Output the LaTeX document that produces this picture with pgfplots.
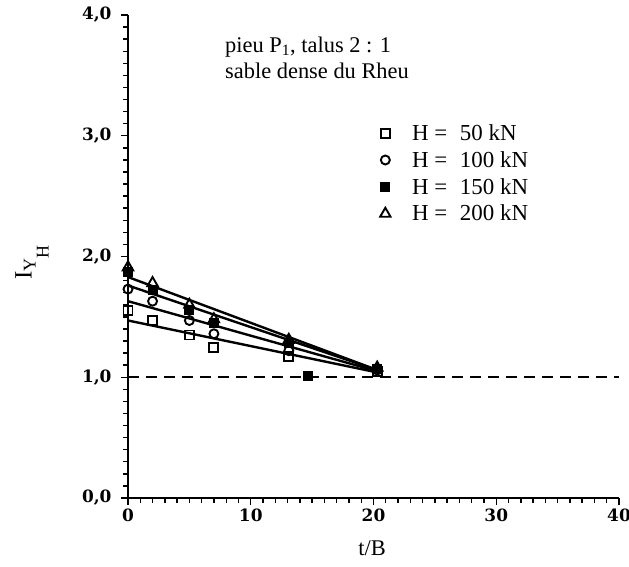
\documentclass[border=0pt]{standalone}
\usepackage{fontspec}
\setmainfont{Liberation Serif}
\newfontfamily\tickfont{DejaVu Serif}
\usepackage{pgfplots}
\pgfplotsset{compat=1.18}
\begin{document}
\begin{tikzpicture}
\begin{axis}[
  name=ax,
  scale only axis, width=491bp, height=483bp,
  xmin=0, xmax=40, ymin=0, ymax=4,
  axis lines=left, axis line style={line width=1.7bp,-},
  xtick={0,10,20,30,40}, ytick={0,1,2,3,4},
  minor x tick num=9, minor y tick num=9,
  tick align=outside,
  major tick length=7bp, minor tick length=4.5bp,
  every tick/.style={line width=1.4bp, black},
  tick label style={font=\tickfont\bfseries\fontsize{17}{18}\selectfont},
  /pgf/number format/assume math mode=true,
  yticklabel style={xshift=-6bp, /pgf/number format/.cd, fixed, fixed zerofill, precision=1, use comma},
  xticklabel style={/pgf/number format/.cd, fixed, precision=0},
  xlabel={t/B},
  ylabel={\fontsize{25}{25}\selectfont I\raisebox{-4bp}{\fontsize{18}{18}\selectfont Y\raisebox{-13bp}{H}}},
  every axis x label/.style={at={(axis description cs:0.497,-0.104)}, anchor=center, font=\fontsize{22.5}{22.5}\selectfont},
  every axis y label/.style={at={(axis description cs:-0.1955,0.487)}, anchor=center, rotate=90},
  clip=false,
  legend style={at={(axis description cs:0.506,0.778)}, anchor=north west, draw=none, fill=none,
    font=\fontsize{23}{23}\selectfont, row sep=5.5bp, inner sep=0pt},
  legend cell align=left,
  legend image code/.code={\draw[#1] plot coordinates {(0.3cm,0cm)}; \path (0cm,0cm) (1.17cm,0cm);},
]
\addplot[black, dashed, line width=2.2bp, dash pattern=on 11bp off 7bp, forget plot] coordinates {(0,1) (40,1)};
\addplot[black, line width=2.4bp, forget plot] coordinates {(0,1.47) (20.3,1.04)};
\addplot[black, line width=2.4bp, forget plot] coordinates {(0,1.63) (20.3,1.05)};
\addplot[black, line width=2.4bp, forget plot] coordinates {(0,1.76) (20.3,1.06)};
\addplot[black, line width=2.4bp, forget plot] coordinates {(0,1.83) (20.3,1.06)};

\addplot[only marks, mark=square, mark size=4.5bp, mark options={line width=1.9bp, fill=white, black}]
  coordinates {(0,1.55) (2,1.47) (5,1.35) (7,1.25) (13.1,1.17) (20.3,1.05)};
\addplot[only marks, mark=o, mark size=4.5bp, mark options={line width=1.9bp, fill=white, black}]
  coordinates {(0,1.73) (2,1.63) (5,1.47) (7,1.36) (13.1,1.22) (20.3,1.06)};
\addplot[only marks, mark=square*, mark size=4.5bp, mark options={line width=1bp, fill=black, black}]
  coordinates {(0,1.87) (2,1.72) (5,1.56) (7,1.45) (13.1,1.28) (14.7,1.01) (20.3,1.07)};
\addplot[only marks, mark=triangle, mark size=6bp, mark options={line width=1.9bp, black}]
  coordinates {(0,1.91) (2,1.78) (5,1.60) (7,1.48) (13.1,1.31) (20.3,1.08)};
\legend{H =\hskip .55em 50 kN, H =\hskip .55em 100 kN, H =\hskip .55em 150 kN, H =\hskip .55em 200 kN}

\node[anchor=north west, align=left, inner sep=0pt, font=\fontsize{22.5}{26.5}\selectfont]
  at (axis description cs:0.1976,0.955) {pieu P\textsubscript{1}, talus 2 : 1\\sable dense du Rheu};
\end{axis}
\pgfresetboundingbox
\path (ax.south west) ++(-128bp,-69bp) rectangle ++(629bp,567bp);
\end{tikzpicture}
\end{document}
